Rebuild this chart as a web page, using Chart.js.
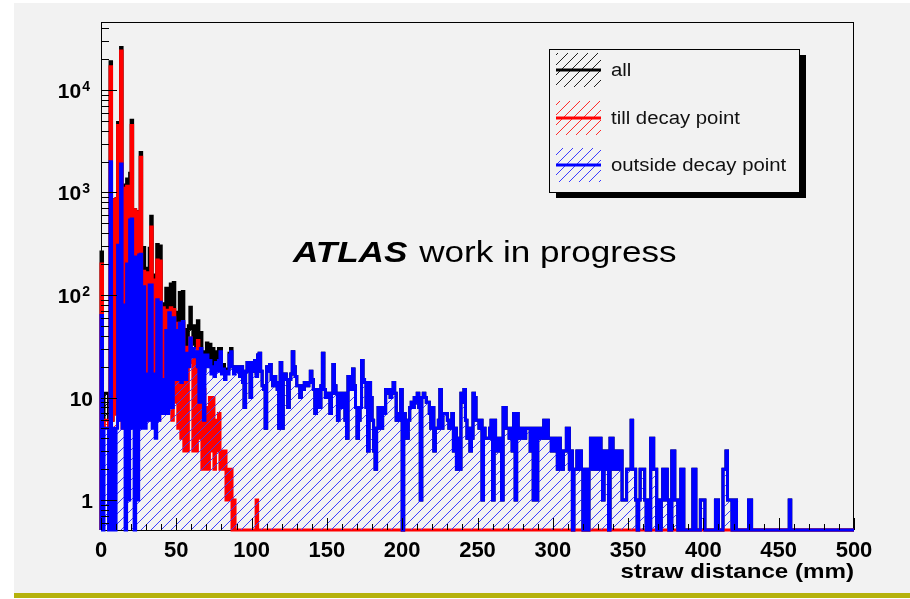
<!DOCTYPE html>
<html>
<head>
<meta charset="utf-8">
<title>straw distance</title>
<script src="https://cdn.jsdelivr.net/npm/chart.js@4.4.1/dist/chart.umd.min.js"></script>
<style>
  html, body { margin: 0; padding: 0; background: #ffffff; }
  #wrap { position: relative; width: 910px; height: 599px; }
</style>
</head>
<body>
<div id="wrap"><canvas id="strawChart"></canvas></div>
<script>
// histogram binning, mm
const xMin = 0;
const xMax = 500;
const binWidth = 1;

// axis ranges and labels
const yMin = 0.51;
const yMax = 46000;
const xTickLabels = [0, 50, 100, 150, 200, 250, 300, 350, 400, 450, 500];
const yTickExponents = [0, 1, 2, 3, 4];
const xTitle = 'straw distance (mm)';
const titleBold = 'ATLAS';
const titleRest = ' work in progress';
const seriesNames = ['all', 'till decay point', 'outside decay point'];
const seriesColors = ['#000000', '#ff0000', '#0000ff'];
const hatchColors = ['#202020', '#ff2a2a', '#3a3aff'];

// counts per 1 mm bin (bins 0..499)
const allCounts = [
  263, 5, 11, 11, 11, 5, 18790, 6, 855, 7, 875, 4805, 12, 25900, 10, 1180, 6, 1350, 9, 1540, 5050, 11, 680, 240, 651,
  252, 2450, 11, 290, 13, 182, 12, 285, 585, 12, 157, 12, 310, 12, 300, 24, 82, 22, 116, 15, 77, 128, 14, 132, 54,
  68, 45, 106, 18, 108, 26, 46, 30, 50, 76, 47, 33, 50, 31, 56, 13, 43, 28, 18, 25, 34, 22, 33, 20, 30,
  18, 28, 21, 30, 30, 20, 21, 18, 19, 19, 27, 30, 20, 18, 20, 18, 20, 16, 20, 14, 8, 18, 22, 20, 10,
  22, 18, 23, 17, 26, 27, 18, 13, 12, 5, 20, 18, 21, 15, 13, 16, 14, 12, 5, 22, 5, 16, 17, 15, 8,
  15, 17, 28, 20, 16, 13, 13, 10, 13, 12, 14, 13, 13, 14, 18, 15, 12, 7, 10, 12, 8, 13, 27, 12, 10,
  11, 10, 7, 11, 21, 13, 11, 6, 11, 11, 8, 11, 6, 4, 16, 15, 12, 19, 13, 8, 4, 6, 8, 23, 15,
  14, 8, 3, 14, 10, 6, 3, 2, 5, 8, 6, 5, 8, 7, 12, 11, 12, 10, 12, 14, 11, 6, 7, 6, 12,
  0, 7, 6, 4, 6, 8, 9, 8, 10, 9, 11, 8, 1, 10, 11, 10, 9, 9, 7, 5, 8, 3, 5, 5, 6,
  12, 5, 7, 7, 7, 6, 5, 5, 7, 3, 5, 2, 4, 2, 11, 9, 12, 6, 4, 5, 3, 4, 11, 10, 6,
  6, 5, 6, 1, 5, 4, 4, 4, 5, 6, 1, 6, 4, 3, 4, 3, 1, 8, 8, 5, 5, 4, 5, 3, 7,
  1, 7, 4, 4, 5, 4, 4, 5, 5, 5, 3, 5, 1, 5, 1, 5, 4, 5, 4, 6, 4, 6, 4, 4, 3,
  4, 4, 3, 2, 4, 3, 2, 3, 3, 5, 5, 2, 3, 0, 2, 2, 3, 2, 3, 2, 0, 2, 1, 0, 2,
  4, 4, 2, 4, 2, 4, 4, 2, 1, 3, 3, 2, 0, 4, 4, 2, 2, 3, 3, 2, 3, 1, 1, 1, 2,
  2, 2, 6, 2, 2, 1, 0, 1, 2, 2, 2, 1, 0, 1, 0, 4, 4, 2, 2, 0, 1, 0, 1, 2, 1,
  2, 1, 0, 0, 3, 3, 1, 1, 0, 0, 2, 2, 0, 0, 0, 0, 0, 0, 2, 2, 0, 0, 0, 1, 1,
  1, 0, 0, 0, 0, 0, 0, 0, 1, 1, 0, 0, 0, 2, 2, 3, 1, 1, 1, 0, 0, 1, 0, 0, 0,
  0, 0, 0, 0, 0, 1, 1, 0, 0, 0, 0, 0, 0, 0, 0, 0, 0, 0, 0, 0, 0, 0, 0, 0, 0,
  0, 0, 0, 0, 0, 0, 0, 1, 0, 0, 0, 0, 0, 0, 0, 0, 0, 0, 0, 0, 0, 0, 0, 0, 0,
  0, 0, 0, 0, 0, 0, 0, 0, 0, 0, 0, 0, 0, 0, 0, 0, 0, 0, 0, 0, 0, 0, 0, 0, 0
];

const tillDecayCounts = [
  200, 5, 6, 6, 6, 5, 16800, 6, 850, 7, 870, 4500, 6, 24000, 5, 1100, 6, 1150, 8, 1000, 4500, 6, 680, 5, 650,
  7, 2200, 6, 170, 8, 165, 6, 160, 460, 7, 140, 8, 220, 6, 215, 9, 75, 7, 71, 8, 10, 75, 6, 72, 9,
  53, 5, 53, 4, 53, 3, 31, 3, 30, 38, 22, 3, 25, 3, 36, 4, 13, 2, 12, 2, 8, 2, 10, 3, 10,
  2, 6, 3, 7, 2, 3, 2, 3, 1, 2, 1, 2, 0, 1, 0, 0, 0, 0, 0, 0, 0, 0, 0, 0, 0,
  0, 0, 0, 1, 0, 0, 0, 0, 0, 0, 0, 0, 0, 0, 0, 0, 0, 0, 0, 0, 0, 0, 0, 0, 0,
  0, 0, 0, 0, 0, 0, 0, 0, 0, 0, 0, 0, 0, 0, 0, 0, 0, 0, 0, 0, 0, 0, 0, 0, 0,
  0, 0, 0, 0, 0, 0, 0, 0, 0, 0, 0, 0, 0, 0, 0, 0, 0, 0, 0, 0, 0, 0, 0, 0, 0,
  0, 0, 0, 0, 0, 0, 0, 0, 0, 0, 0, 0, 0, 0, 0, 0, 0, 0, 0, 0, 0, 0, 0, 0, 0,
  0, 0, 0, 0, 0, 0, 0, 0, 0, 0, 0, 0, 0, 0, 0, 0, 0, 0, 0, 0, 0, 0, 0, 0, 0,
  0, 0, 0, 0, 0, 0, 0, 0, 0, 0, 0, 0, 0, 0, 0, 0, 0, 0, 0, 0, 0, 0, 0, 0, 0,
  0, 0, 0, 0, 0, 0, 0, 0, 0, 0, 0, 0, 0, 0, 0, 0, 0, 0, 0, 0, 0, 0, 0, 0, 0,
  0, 0, 0, 0, 0, 0, 0, 0, 0, 0, 0, 0, 0, 0, 0, 0, 0, 0, 0, 0, 0, 0, 0, 0, 0,
  0, 0, 0, 0, 0, 0, 0, 0, 0, 0, 0, 0, 0, 0, 0, 0, 0, 0, 0, 0, 0, 0, 0, 0, 0,
  0, 0, 0, 0, 0, 0, 0, 0, 0, 0, 0, 0, 0, 0, 0, 0, 0, 0, 0, 0, 0, 0, 0, 0, 0,
  0, 0, 0, 0, 0, 0, 0, 0, 0, 0, 0, 0, 0, 0, 0, 0, 0, 0, 0, 0, 0, 0, 0, 0, 0,
  0, 0, 0, 0, 0, 0, 0, 0, 0, 0, 0, 0, 0, 0, 0, 0, 0, 0, 0, 0, 0, 0, 0, 0, 0,
  0, 0, 0, 0, 0, 0, 0, 0, 0, 0, 0, 0, 0, 0, 0, 0, 0, 0, 0, 0, 0, 0, 0, 0, 0,
  0, 0, 0, 0, 0, 0, 0, 0, 0, 0, 0, 0, 0, 0, 0, 0, 0, 0, 0, 0, 0, 0, 0, 0, 0,
  0, 0, 0, 0, 0, 0, 0, 0, 0, 0, 0, 0, 0, 0, 0, 0, 0, 0, 0, 0, 0, 0, 0, 0, 0,
  0, 0, 0, 0, 0, 0, 0, 0, 0, 0, 0, 0, 0, 0, 0, 0, 0, 0, 0, 0, 0, 0, 0, 0, 0
];

const outsideDecayCounts = [
  63, 0, 5, 5, 5, 0, 1990, 0, 5, 0, 5, 305, 6, 1900, 5, 80, 0, 200, 1, 540, 550, 5, 0, 235, 1,
  245, 250, 5, 120, 5, 17, 6, 125, 125, 5, 17, 4, 90, 6, 85, 15, 7, 15, 45, 7, 67, 53, 8, 60, 45,
  15, 40, 53, 14, 55, 23, 15, 27, 20, 38, 25, 30, 25, 28, 20, 9, 30, 26, 6, 23, 26, 20, 23, 17, 20,
  16, 22, 18, 23, 28, 17, 19, 15, 18, 17, 26, 28, 20, 17, 20, 18, 20, 16, 20, 14, 8, 18, 22, 20, 10,
  22, 18, 23, 16, 26, 27, 18, 13, 12, 5, 20, 18, 21, 15, 13, 16, 14, 12, 5, 22, 5, 16, 17, 15, 8,
  15, 17, 28, 20, 16, 13, 13, 10, 13, 12, 14, 13, 13, 14, 18, 15, 12, 7, 10, 12, 8, 13, 27, 12, 10,
  11, 10, 7, 11, 21, 13, 11, 6, 11, 11, 8, 11, 6, 4, 16, 15, 12, 19, 13, 8, 4, 6, 8, 23, 15,
  14, 8, 3, 14, 10, 6, 3, 2, 5, 8, 6, 5, 8, 7, 12, 11, 12, 10, 12, 14, 11, 6, 7, 6, 12,
  0, 7, 6, 4, 6, 8, 9, 8, 10, 9, 11, 8, 1, 10, 11, 10, 9, 9, 7, 5, 8, 3, 5, 5, 6,
  12, 5, 7, 7, 7, 6, 5, 5, 7, 3, 5, 2, 4, 2, 11, 9, 12, 6, 4, 5, 3, 4, 11, 10, 6,
  6, 5, 6, 1, 5, 4, 4, 4, 5, 6, 1, 6, 4, 3, 4, 3, 1, 8, 8, 5, 5, 4, 5, 3, 7,
  1, 7, 4, 4, 5, 4, 4, 5, 5, 5, 3, 5, 1, 5, 1, 5, 4, 5, 4, 6, 4, 6, 4, 4, 3,
  4, 4, 3, 2, 4, 3, 2, 3, 3, 5, 5, 2, 3, 0, 2, 2, 3, 2, 3, 2, 0, 2, 1, 0, 2,
  4, 4, 2, 4, 2, 4, 4, 2, 1, 3, 3, 2, 0, 4, 4, 2, 2, 3, 3, 2, 3, 1, 1, 1, 2,
  2, 2, 6, 2, 2, 1, 0, 1, 2, 2, 2, 1, 0, 1, 0, 4, 4, 2, 2, 0, 1, 0, 1, 2, 1,
  2, 1, 0, 0, 3, 3, 1, 1, 0, 0, 2, 2, 0, 0, 0, 0, 0, 0, 2, 2, 0, 0, 0, 1, 1,
  1, 0, 0, 0, 0, 0, 0, 0, 1, 1, 0, 0, 0, 2, 2, 3, 1, 1, 1, 0, 0, 1, 0, 0, 0,
  0, 0, 0, 0, 0, 1, 1, 0, 0, 0, 0, 0, 0, 0, 0, 0, 0, 0, 0, 0, 0, 0, 0, 0, 0,
  0, 0, 0, 0, 0, 0, 0, 1, 0, 0, 0, 0, 0, 0, 0, 0, 0, 0, 0, 0, 0, 0, 0, 0, 0,
  0, 0, 0, 0, 0, 0, 0, 0, 0, 0, 0, 0, 0, 0, 0, 0, 0, 0, 0, 0, 0, 0, 0, 0, 0
];

const FONT = "'Liberation Sans', Arial, Helvetica, sans-serif";
const HATCH_STEP = 10;

// histogram outline: one point per bin low edge, empty bins sit on the axis floor
function toSteps(counts) {
    const floor = v => (v > 0 ? v : yMin);
    const pts = [{ x: xMin, y: yMin }];
    counts.forEach((c, i) => pts.push({ x: xMin + i * binWidth, y: floor(c) }));
    pts.push({ x: xMax, y: floor(counts[counts.length - 1]) });
    return pts;
}

const allSeries = [allCounts, tillDecayCounts, outsideDecayCounts];

const datasets = allSeries.map((counts, i) => ({
    label: seriesNames[i],
    data: toSteps(counts),
    borderColor: seriesColors[i],
    borderWidth: 3,
    fill: false,
    stepped: true,
    pointRadius: 0,
    pointHoverRadius: 0,
    borderJoinStyle: 'miter',
    clip: 4,
    order: 3 - i   // outside decay point ends up on top
}));

// one-pixel "/" hatch lines on a fixed grid, so stacked fills overwrite each other exactly
let hatchPath = null;
function getHatch(a) {
    if (hatchPath) return hatchPath;
    const p = new Path2D();
    const x0 = Math.floor(a.left), x1 = Math.ceil(a.right);
    const y0 = Math.floor(a.top), y1 = Math.ceil(a.bottom);
    for (let y = y0; y < y1; y++) {
        let x = x0 + ((HATCH_STEP - ((x0 + y) % HATCH_STEP)) % HATCH_STEP);
        for (; x < x1; x += HATCH_STEP) p.rect(x, y, 1, 1);
    }
    hatchPath = p;
    return p;
}

// hatched fill under each histogram, drawn just before its outline
const hatchFill = {
    id: 'hatchFill',
    beforeDatasetDraw(chart, args) {
        const pts = args.meta.data;
        if (!pts.length) return;
        const { ctx, chartArea: a } = chart;
        ctx.save();
        ctx.beginPath();
        ctx.moveTo(pts[0].x, a.bottom);
        let prevY = pts[0].y;
        ctx.lineTo(pts[0].x, prevY);
        for (let k = 1; k < pts.length; k++) {
            ctx.lineTo(pts[k].x, prevY);
            ctx.lineTo(pts[k].x, pts[k].y);
            prevY = pts[k].y;
        }
        ctx.lineTo(pts[pts.length - 1].x, a.bottom);
        ctx.closePath();
        ctx.clip();
        ctx.fillStyle = hatchColors[args.index];
        ctx.fill(getHatch(a));
        ctx.restore();
    }
};

function stretched(ctx, text, x, y, font, align, sx) {
    ctx.save();
    ctx.font = font;
    ctx.translate(x, y);
    ctx.scale(sx, 1);
    ctx.textAlign = align;
    ctx.textBaseline = 'alphabetic';
    ctx.fillText(text, 0, 0);
    ctx.restore();
}

// ROOT-like pad, frame, axes, legend and caption
const rootPad = {
    id: 'rootPad',
    beforeDraw(chart) {
        const { ctx, width, height } = chart;
        ctx.save();
        ctx.fillStyle = '#ffffff';
        ctx.fillRect(0, 0, width, height);
        ctx.fillStyle = '#f2f2f2';
        ctx.fillRect(14, 3, width - 14, 590);
        ctx.fillStyle = '#b5b20c';
        ctx.fillRect(14, 593, width - 14, 5);
        ctx.restore();
    },
    beforeDatasetsDraw(chart) {
        const { ctx, chartArea: a } = chart;
        ctx.save();
        ctx.strokeStyle = '#000000';
        ctx.lineWidth = 1;
        ctx.strokeRect(a.left + 0.5, a.top + 0.5, a.right - a.left - 1, a.bottom - a.top);
        ctx.restore();
    },
    afterDatasetsDraw(chart) {
        const { ctx, chartArea: a, scales } = chart;
        const x = scales.x;
        const y = scales.y;
        ctx.save();
        ctx.strokeStyle = '#000000';
        ctx.lineWidth = 1;
        ctx.beginPath();
        // x ticks: major every 50, minor every 10
        for (let v = xMin; v <= xMax; v += 10) {
            const px = Math.round(x.getPixelForValue(v)) + 0.5;
            const len = v % 50 === 0 ? 12 : 6;
            ctx.moveTo(px, a.bottom);
            ctx.lineTo(px, a.bottom - len);
        }
        // y ticks: log decades with 2..9 minors
        for (let e = -1; e <= 4; e++) {
            for (let m = 1; m <= 9; m++) {
                const v = m * Math.pow(10, e);
                if (v < yMin || v > yMax) continue;
                const py = Math.round(y.getPixelForValue(v)) + 0.5;
                const len = m === 1 ? 16 : 8;
                ctx.moveTo(a.left, py);
                ctx.lineTo(a.left + len, py);
            }
        }
        ctx.stroke();

        ctx.fillStyle = '#000000';
        // x tick labels
        xTickLabels.forEach(v => {
            stretched(ctx, String(v), x.getPixelForValue(v), 557, 'bold 22px ' + FONT, 'center', 1.0);
        });
        // y tick labels, 10^n with raised exponent
        const right = 93;
        yTickExponents.forEach(e => {
            const py = y.getPixelForValue(Math.pow(10, e));
            if (e === 0) {
                stretched(ctx, '1', right, py + 8, 'bold 21px ' + FONT, 'right', 1.0);
            } else if (e === 1) {
                stretched(ctx, '10', right, py + 8, 'bold 21px ' + FONT, 'right', 1.0);
            } else {
                ctx.font = 'bold 14px ' + FONT;
                const wSup = ctx.measureText(String(e)).width;
                stretched(ctx, String(e), right - 3 - wSup, py + 1, 'bold 14px ' + FONT, 'left', 1.0);
                stretched(ctx, '10', right - 4 - wSup, py + 8, 'bold 21px ' + FONT, 'right', 1.0);
            }
        });
        // x axis title
        stretched(ctx, xTitle, a.right, 578, 'bold 21px ' + FONT, 'right', 1.15);
        ctx.restore();
    },
    afterDraw(chart) {
        const { ctx, chartArea: a } = chart;
        ctx.save();
        // caption
        const tx = 293, ty = 262, sx = 1.17;
        ctx.font = 'italic bold 30px ' + FONT;
        const wBold = ctx.measureText(titleBold).width * sx;
        ctx.fillStyle = '#000000';
        stretched(ctx, titleBold, tx, ty, 'italic bold 30px ' + FONT, 'left', sx);
        stretched(ctx, titleRest, tx + wBold + 2, ty, '30px ' + FONT, 'left', sx);

        // legend box with drop shadow
        const bx = 549, by = 49, bw = 250, bh = 143;
        ctx.fillStyle = '#000000';
        ctx.fillRect(bx + 7, by + 6, bw, bh);
        ctx.fillStyle = '#f2f2f2';
        ctx.fillRect(bx, by, bw, bh);
        ctx.strokeStyle = '#000000';
        ctx.lineWidth = 1;
        ctx.strokeRect(bx + 0.5, by + 0.5, bw, bh);

        const rows = [70, 118, 165];
        seriesNames.forEach((name, i) => {
            const cy = rows[i];
            ctx.save();
            ctx.beginPath();
            ctx.rect(556, cy - 17, 45, 34);
            ctx.clip();
            ctx.fillStyle = hatchColors[i];
            ctx.fill(getHatch(a));
            ctx.restore();
            ctx.strokeStyle = seriesColors[i];
            ctx.lineWidth = 3;
            ctx.beginPath();
            ctx.moveTo(556, cy);
            ctx.lineTo(601, cy);
            ctx.stroke();
            ctx.fillStyle = '#111111';
            stretched(ctx, name, 611, cy + 6, '18px ' + FONT, 'left', 1.13);
        });
        ctx.restore();
    }
};

new Chart(document.getElementById('strawChart'), {
    type: 'line',
    data: { datasets: datasets },
    options: {
        responsive: true,
        maintainAspectRatio: false,
        animation: false,
        events: [],
        layout: {
            padding: { left: 101, top: 22, right: 56, bottom: 69 }
        },
        scales: {
            x: { type: 'linear', min: xMin, max: xMax, display: false },
            y: { type: 'logarithmic', min: yMin, max: yMax, display: false }
        },
        plugins: {
            legend: { display: false },
            tooltip: { enabled: false },
            title: { display: false }
        }
    },
    plugins: [hatchFill, rootPad]
});
</script>
</body>
</html>
